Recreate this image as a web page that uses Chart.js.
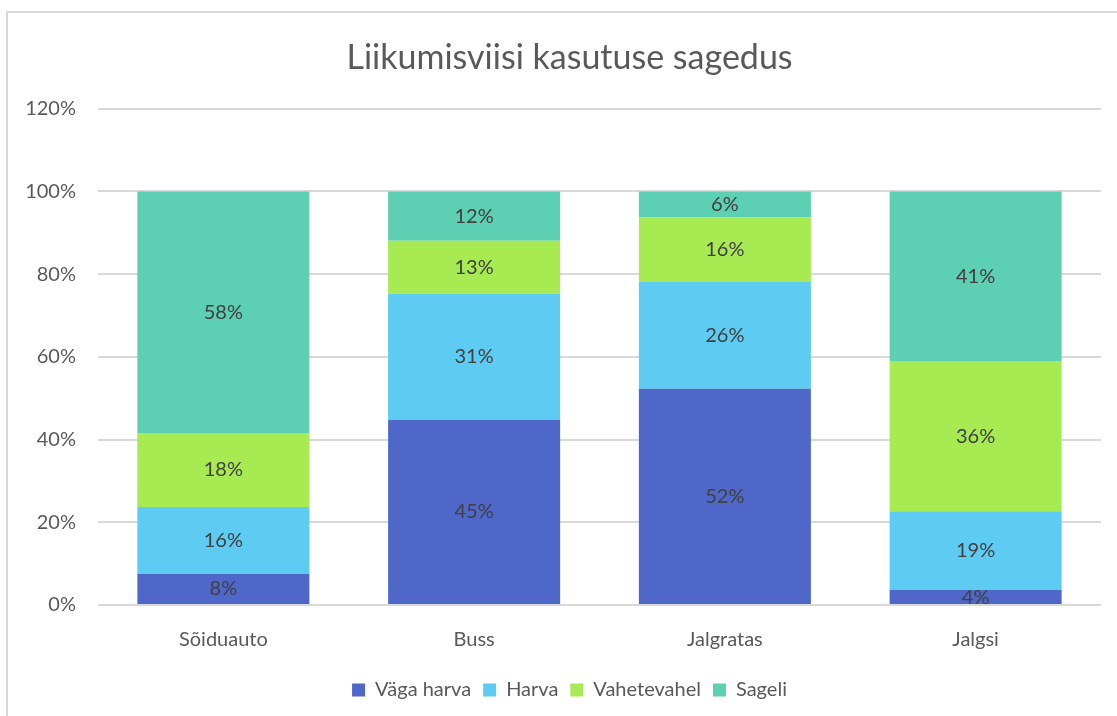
<!DOCTYPE html>
<html>
<head>
<meta charset="utf-8">
<script src="https://cdn.jsdelivr.net/npm/chart.js@4/dist/chart.umd.min.js"></script>
<style>
  html, body { margin: 0; padding: 0; background: #fff; overflow: hidden; }
  #wrap { position: absolute; left: 0; top: 0; width: 1139px; height: 716px; }
  #frame { position: absolute; left: 6px; top: 11px; width: 1200px; height: 800px; border: 2px solid #d9d9d9; }
</style>
</head>
<body>
<div id="frame"></div>
<div id="wrap"><canvas id="c" width="1139" height="716"></canvas></div>
<script>
// kategooriad ja seeriad
const categories = ["Sõiduauto", "Buss", "Jalgratas", "Jalgsi"];
const seriesNames = ["Väga harva", "Harva", "Vahetevahel", "Sageli"];
const vagaHarva   = [0.075, 0.448, 0.523, 0.036];
const harva       = [0.162, 0.305, 0.258, 0.191];
const vahetevahel = [0.179, 0.128, 0.157, 0.363];
const sageli      = [0.584, 0.119, 0.062, 0.410];
const yTicks = [0, 0.2, 0.4, 0.6, 0.8, 1.0, 1.2];

const colors = ["#4e67c8", "#5ecbf2", "#a8ea52", "#5dcfb2"];
const fontFam = "Lato, 'Open Sans', sans-serif";

// andmesiltide joonistamine (datalabels pluginat pole)
const segLabels = {
  id: "segLabels",
  afterDatasetsDraw(chart) {
    const ctx = chart.ctx;
    ctx.save();
    ctx.font = "20px " + fontFam;
    ctx.fillStyle = "#404040";
    ctx.textAlign = "center";
    ctx.textBaseline = "middle";
    chart.data.datasets.forEach((ds, i) => {
      chart.getDatasetMeta(i).data.forEach((bar, j) => {
        const v = ds.data[j];
        ctx.fillText(Math.round(v * 100) + "%", bar.x, (bar.y + bar.base) / 2);
      });
    });
    ctx.restore();
  }
};

new Chart(document.getElementById("c"), {
  type: "bar",
  data: {
    labels: categories,
    datasets: [vagaHarva, harva, vahetevahel, sageli].map((d, i) => ({
      label: seriesNames[i],
      data: d,
      backgroundColor: colors[i],
      barPercentage: 0.686,
      categoryPercentage: 1.0
    }))
  },
  options: {
    responsive: false,
    animation: false,
    layout: { padding: { left: 0, right: 0, top: 0, bottom: 6 } },
    scales: {
      x: {
        stacked: true,
        grid: { display: false },
        border: { display: false },
        ticks: { color: "#595959", font: { family: fontFam, size: 20 }, padding: 15 },
        afterFit(scale) { scale.height = 63; }
      },
      y: {
        stacked: true,
        min: 0,
        max: 1.2,
        afterBuildTicks(scale) { scale.ticks = yTicks.map(v => ({ value: v })); },
        grid: { color: "#d9d9d9", lineWidth: 2, drawTicks: false },
        border: { display: false },
        ticks: {
          color: "#595959",
          font: { family: fontFam, size: 20 },
          padding: 22,
          callback: v => Math.round(v * 100) + "%"
        },
        afterFit(scale) { scale.width = 98; }
      },
      // tühi parempoolne telg, et pealkiri ja legend oleksid raami keskel
      yR: {
        position: "right",
        grid: { display: false },
        border: { display: false },
        ticks: { display: false },
        afterFit(scale) { scale.width = 38; }
      }
    },
    plugins: {
      title: {
        display: true,
        text: "Liikumisviisi kasutuse sagedus",
        color: "#595959",
        font: { family: fontFam, size: 34, weight: "normal" },
        padding: { top: 38, bottom: 30 }
      },
      legend: {
        position: "bottom",
        labels: {
          color: "#595959",
          font: { family: fontFam, size: 20 },
          boxWidth: 13,
          boxHeight: 13,
          padding: 12
        }
      },
      tooltip: { enabled: false }
    }
  },
  plugins: [segLabels]
});
</script>
</body>
</html>
